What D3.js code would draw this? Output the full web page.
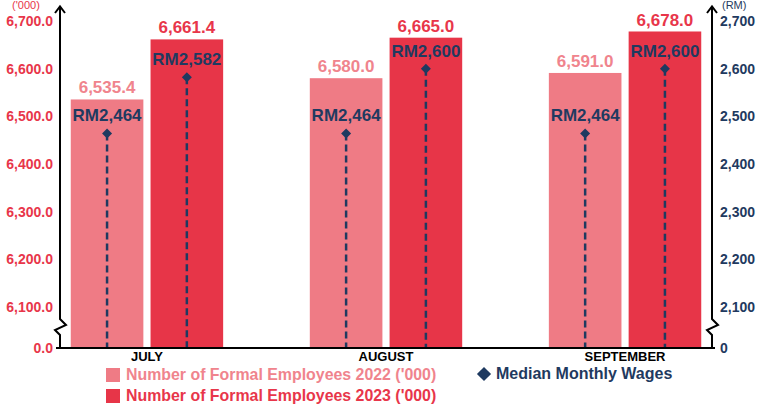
<!DOCTYPE html>
<html>
<head>
<meta charset="utf-8">
<script src="https://cdn.jsdelivr.net/npm/d3@7"></script>
<style>
  body { margin: 0; background: #fff; }
  text { font-family: "Liberation Sans", Arial, sans-serif; font-weight: bold; }
</style>
</head>
<body>
<div id="chart"></div>
<script>
// Chart data
var months = ["JULY", "AUGUST", "SEPTEMBER"];
var employees2022 = [6535.4, 6580.0, 6591.0];
var employees2023 = [6661.4, 6665.0, 6678.0];
var wages2022 = [2464, 2464, 2464];
var wages2023 = [2582, 2600, 2600];
var leftTicks = [0, 6100, 6200, 6300, 6400, 6500, 6600, 6700];
var rightTicks = [0, 2100, 2200, 2300, 2400, 2500, 2600, 2700];

var color2022 = "#ef7b85";
var color2023 = "#e73548";
var navy = "#1f3a60";

var svg = d3
  .select("#chart")
  .append("svg")
  .attr("width", 765)
  .attr("height", 405);

var margin = { top: 21, right: 53, bottom: 57, left: 60 };
var width = +svg.attr("width") - margin.left - margin.right;
var height = +svg.attr("height") - margin.top - margin.bottom;

var g = svg
  .append("g")
  .attr("transform", "translate(" + margin.left + "," + margin.top + ")");

// broken axes: the gap between 0 and the first real tick is squeezed
var breakH = 41;
var yLeft = d3.scaleLinear().domain([0, 6100, 6700]).range([height, height - breakH, 0]);
var yRight = d3.scaleLinear().domain([0, 2100, 2700]).range([height, height - breakH, 0]);

var x0 = d3.scaleBand().domain(months).range([0, width]).paddingInner(0.3625).paddingOuter(0.045);
var x1 = d3.scaleBand().domain(["2022", "2023"]).range([0, x0.bandwidth()]).paddingInner(0.09);

var rows = months.map(function (m, i) {
  return [
    { month: m, year: "2022", emp: employees2022[i], wage: wages2022[i] },
    { month: m, year: "2023", emp: employees2023[i], wage: wages2023[i] },
  ];
});
var barData = [].concat.apply([], rows);

function barX(d) {
  return x0(d.month) + x1(d.year);
}
function barMid(d) {
  return barX(d) + x1.bandwidth() / 2;
}

// bars
g.selectAll(".bar")
  .data(barData)
  .enter()
  .append("rect")
  .attr("class", "bar")
  .attr("x", barX)
  .attr("y", function (d) {
    return yLeft(d.emp);
  })
  .attr("width", x1.bandwidth())
  .attr("height", function (d) {
    return height - yLeft(d.emp);
  })
  .style("fill", function (d) {
    return d.year === "2022" ? color2022 : color2023;
  });

// value labels above bars
g.selectAll(".emp-label")
  .data(barData)
  .enter()
  .append("text")
  .attr("class", "emp-label")
  .attr("x", barMid)
  .attr("y", function (d) {
    return yLeft(d.emp) - 6;
  })
  .attr("text-anchor", "middle")
  .style("font-size", "17px")
  .style("fill", function (d) {
    return d.year === "2022" ? "#f0848d" : "#e8364a";
  })
  .text(function (d) {
    return d3.format(",.1f")(d.emp);
  });

// dashed wage lines
g.selectAll(".wage-line")
  .data(barData)
  .enter()
  .append("line")
  .attr("class", "wage-line")
  .attr("x1", barMid)
  .attr("x2", barMid)
  .attr("y1", function (d) {
    return yRight(d.wage);
  })
  .attr("y2", height)
  .style("stroke", navy)
  .style("stroke-width", 2.5)
  .style("stroke-dasharray", "7,4");

g.selectAll(".wage-dot")
  .data(barData)
  .enter()
  .append("path")
  .attr("class", "wage-dot")
  .attr("d", d3.symbol(d3.symbolSquare, 50))
  .attr("transform", function (d) {
    return "translate(" + barMid(d) + "," + yRight(d.wage) + ") rotate(45)";
  })
  .style("fill", navy);

g.selectAll(".wage-label")
  .data(barData)
  .enter()
  .append("text")
  .attr("class", "wage-label")
  .attr("x", barMid)
  .attr("y", function (d) {
    return yRight(d.wage) - 12;
  })
  .attr("text-anchor", "middle")
  .style("font-size", "17px")
  .style("fill", navy)
  .text(function (d) {
    return "RM" + d3.format(",")(d.wage);
  });

// left axis
var leftAxis = g
  .append("g")
  .call(
    d3.axisLeft(yLeft).tickValues(leftTicks).tickSize(0).tickPadding(7).tickFormat(d3.format(",.1f"))
  );
leftAxis.select(".domain").remove();
leftAxis
  .selectAll("text")
  .style("font-size", "14px")
  .style("fill", "#e8364a");

// right axis
var rightAxis = g
  .append("g")
  .attr("transform", "translate(" + width + ",0)")
  .call(d3.axisRight(yRight).tickValues(rightTicks).tickSize(0).tickPadding(8).tickFormat(d3.format(",")));
rightAxis.select(".domain").remove();
rightAxis
  .selectAll("text")
  .style("font-size", "14px")
  .style("fill", navy);

// axis lines with break zigzag and arrow
function axisPath(x) {
  var yb = yLeft(6100);
  return d3.line()([
    [x, height],
    [x, yb + 28],
    [x - 5, yb + 23],
    [x + 6, yb + 18],
    [x, yb + 12],
    [x, -14],
  ]);
}
[0, width].forEach(function (x) {
  g.append("path")
    .attr("d", axisPath(x))
    .style("fill", "none")
    .style("stroke", "#000")
    .style("stroke-width", 2);
  g.append("path")
    .attr("d", d3.line()([[x - 5, -8], [x, -14.5], [x + 5, -8]]))
    .style("fill", "none")
    .style("stroke", "#000")
    .style("stroke-width", 2);
});

// unit labels
g.append("text")
  .attr("x", -34)
  .attr("y", -12.5)
  .attr("text-anchor", "middle")
  .style("font-size", "11px")
  .style("font-weight", "normal")
  .style("fill", "#e8364a")
  .text("('000)");
g.append("text")
  .attr("x", width + 10)
  .attr("y", -12.5)
  .style("font-size", "11px")
  .style("font-weight", "normal")
  .style("fill", navy)
  .text("(RM)");

// x axis
g.append("line")
  .attr("x1", -4)
  .attr("x2", width + 3)
  .attr("y1", height)
  .attr("y2", height)
  .style("stroke", "#000")
  .style("stroke-width", 2);

var xAxis = g
  .append("g")
  .attr("transform", "translate(0," + height + ")")
  .call(d3.axisBottom(x0).tickSize(0).tickPadding(4));
xAxis.select(".domain").remove();
xAxis
  .selectAll("text")
  .style("font-size", "13px")
  .style("fill", "#000");

// legend
var legend = svg.append("g");
var legendItems = [
  { label: "Number of Formal Employees 2022 ('000)", color: color2022, text: "#f0848d", y: 368 },
  { label: "Number of Formal Employees 2023 ('000)", color: color2023, text: "#e8364a", y: 389 },
];
legendItems.forEach(function (d) {
  legend
    .append("rect")
    .attr("x", 106)
    .attr("y", d.y)
    .attr("width", 14)
    .attr("height", 14)
    .style("fill", d.color);
  legend
    .append("text")
    .attr("x", 126)
    .attr("y", d.y + 12)
    .style("font-size", "15.9px")
    .style("fill", d.text)
    .text(d.label);
});
legend
  .append("path")
  .attr("d", d3.symbol(d3.symbolSquare, 100))
  .attr("transform", "translate(484,374) rotate(45)")
  .style("fill", navy);
legend
  .append("text")
  .attr("x", 496)
  .attr("y", 379)
  .style("font-size", "16px")
  .style("fill", navy)
  .text("Median Monthly Wages");
</script>
</body>
</html>
